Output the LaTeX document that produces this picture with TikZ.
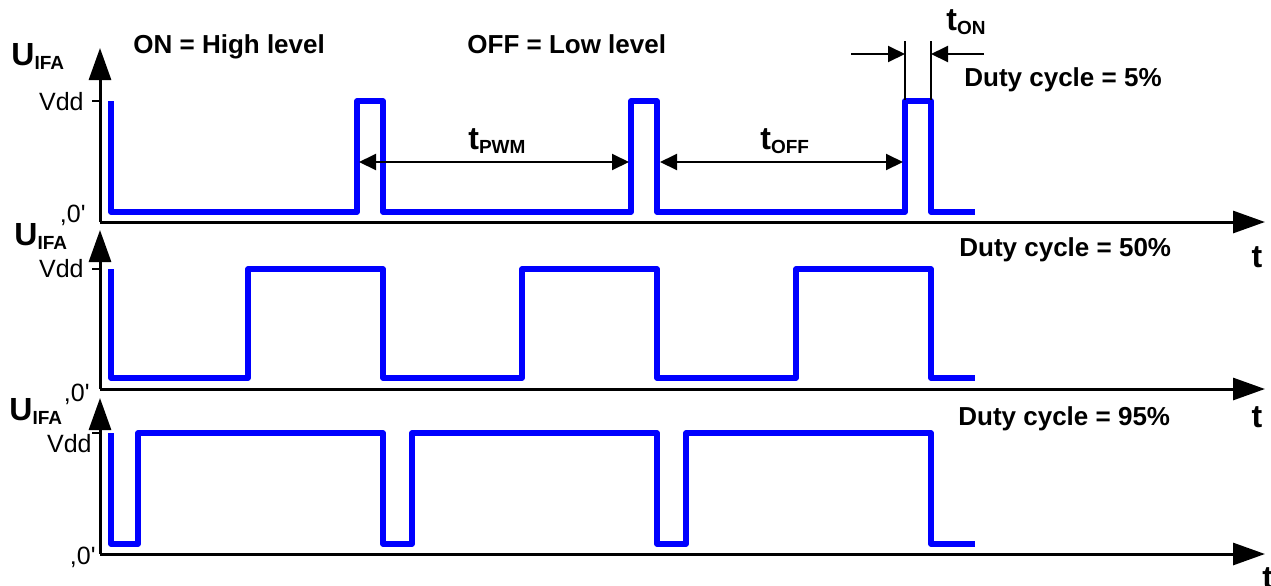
\documentclass[tikz,border=0pt]{standalone}
\usepackage{fontspec}
\setmainfont{Liberation Sans}
\usetikzlibrary{arrows.meta}
\newcommand{\idx}[1]{\raisebox{-2pt}{\fontsize{9.5}{10}\selectfont #1}}
\newcommand{\zero}{,0\textquotesingle}

\begin{document}
\begin{tikzpicture}[
    x=0.5pt, y=-0.5pt,
    txt/.style={inner sep=0pt, font=\fontsize{12.5}{14}\selectfont},
    bold/.style={inner sep=0pt, font=\bfseries\fontsize{13}{15}\selectfont},
    sym/.style={inner sep=0pt, font=\bfseries\fontsize{16}{18}\selectfont},
    axis/.style={line width=1.5pt, -{Triangle[length=16pt, width=11pt]}},
    sig/.style={draw=blue, line width=2.6pt, line join=round},
    dim/.style={line width=1pt, {Triangle[length=8.5pt, width=8pt]}-{Triangle[length=8.5pt, width=8pt]}},
    arr/.style={line width=1pt, -{Triangle[length=8.5pt, width=8pt]}},
    tick/.style={line width=1pt}
  ]
  \useasboundingbox (0,0) rectangle (1271,585);

  % panels: number / axis / Vdd / low / arrow tip / first rising edge
  \foreach \p/\ya/\yh/\yl/\yt/\rs in {1/222/101/212/48/357, 2/389/269/378/230/248, 3/554/433/544/398/138} {
    \coordinate (o\p) at (100,\ya);
    \coordinate (up\p) at (100,\yt);
    \coordinate (end\p) at (1265,\ya);
    \draw[axis] (o\p) -- (up\p);
    \draw[axis] (o\p) -- (end\p);
    \draw[tick] (92,\yh) -- (100,\yh);
    \draw[sig] (111,\yh) -- (111,\yl)
      \foreach \k in {0,1,2} { -| ({\rs+274*\k},\yh) -| ({383+274*\k},\yl) } -- (975,\yl);
  }

  \node[sym, anchor=base west] (u1) at (11,65) {U\idx{IFA}};
  \node[sym, anchor=base west] (u2) at (14,245) {U\idx{IFA}};
  \node[sym, anchor=base west] (u3) at (9,420) {U\idx{IFA}};

  \node[txt, anchor=base east] (vdd1) at (84,110) {Vdd};
  \node[txt, anchor=base east] (vdd2) at (84,277) {Vdd};
  \node[txt, anchor=base east] (vdd3) at (92,452) {Vdd};

  \node[txt, anchor=base east] (z1) at (86,222) {\zero};
  \node[txt, anchor=base east] (z2) at (90,401) {\zero};
  \node[txt, anchor=base east] (z3) at (96,564) {\zero};

  \node[sym, anchor=base] (t1) at (1257,267) {t};
  \node[sym, anchor=base] (t2) at (1257,427) {t};
  \node[sym, anchor=base west] (t3) at (1262,588) {t};

  \node[bold, anchor=base west] (on) at (133,53) {ON = High level};
  \node[bold, anchor=base west] (off) at (467,53) {OFF = Low level};

  \node[bold, anchor=base west] (dc1) at (964,86) {Duty cycle = 5\%};
  \node[bold, anchor=base west] (dc2) at (959,256) {Duty cycle = 50\%};
  \node[bold, anchor=base west] (dc3) at (958,425) {Duty cycle = 95\%};

  % dimensions
  \node[sym, anchor=base west] (tpwm) at (468,149) {t\idx{PWM}};
  \node[sym, anchor=base west] (toff) at (760,149) {t\idx{OFF}};
  \node[sym, anchor=base west] (ton) at (946,30) {t\idx{ON}};

  \coordinate (pwmA) at (359,162);
  \coordinate (pwmB) at (629,162);
  \coordinate (offA) at (660,162);
  \coordinate (offB) at (903,162);
  \draw[dim] (pwmA) -- (pwmB);
  \draw[dim] (offA) -- (offB);

  \coordinate (onL) at (905,41);
  \coordinate (onR) at (931,41);
  \coordinate (inL) at (851,54);
  \coordinate (inR) at (984,54);
  \draw[tick] (onL) -- (905,100);
  \draw[tick] (onR) -- (931,100);
  \draw[arr] (inL) -- (inL -| onL);
  \draw[arr] (inR) -- (inR -| onR);
\end{tikzpicture}
\end{document}
